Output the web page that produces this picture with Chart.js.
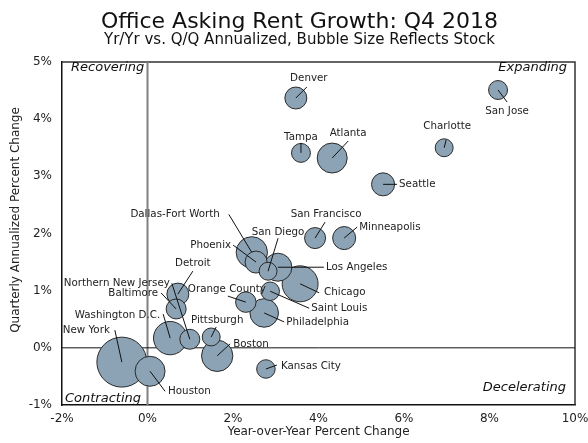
<!DOCTYPE html>
<html>
<head>
<meta charset="utf-8">
<script src="https://cdn.jsdelivr.net/npm/chart.js@4.4.0/dist/chart.umd.min.js"></script>
<style>
  body { margin: 0; background: #fff; }
  #wrap { width: 588px; height: 443px; }
</style>
</head>
<body>
<div id="wrap"><canvas id="rentChart"></canvas></div>
<script>
const metros = [
  "Denver", "Tampa", "Atlanta", "Charlotte", "San Jose", "Seattle",
  "San Francisco", "Minneapolis", "Dallas-Fort Worth", "Phoenix", "San Diego",
  "Los Angeles", "Chicago", "Saint Louis", "Orange County", "Philadelphia",
  "Detroit", "Northern New Jersey", "Baltimore", "Washington D.C.",
  "Pittsburgh", "Boston", "New York", "Houston", "Kansas City",
];
// Yr/Yr percent change
const yoyChange = [
  3.47, 3.59, 4.32, 6.94, 8.2, 5.51, 3.92, 4.6, 2.44, 2.54, 2.82, 3.05, 3.57,
  2.87, 2.3, 2.73, 0.71, 0.99, 0.67, 0.53, 1.49, 1.63, -0.6, 0.06, 2.77,
];
// Q/Q annualized percent change
const qoqAnnualized = [
  4.37, 3.41, 3.32, 3.5, 4.51, 2.86, 1.92, 1.92, 1.67, 1.5, 1.34, 1.41, 1.12,
  0.99, 0.8, 0.61, 0.94, 0.15, 0.68, 0.17, 0.19, -0.14, -0.25, -0.41, -0.37,
];
// office stock, million sq ft
const officeStock = [
  93, 69, 173, 62, 69, 102, 85, 102, 189, 93, 62, 151, 249, 66, 81, 157, 93,
  77, 77, 214, 62, 189, 480, 173, 66,
];
const xTicks = [-2, 0, 2, 4, 6, 8, 10];
const yTicks = [-1, 0, 1, 2, 3, 4, 5];

// where each city name sits, px from bubble centre:
// [textDx, textDy, align, lineEndDx, lineEndDy]
const labelSpots = {
  "Denver": [13, -20, "center", 11, -11],
  "Tampa": [0, -16, "center", 0, -10],
  "Atlanta": [16, -25, "center", 16, -17],
  "Charlotte": [3, -21, "center", 2, -8],
  "San Jose": [9, 21, "center", 9, 12],
  "Seattle": [16, 0, "left", 14, 0],
  "San Francisco": [11, -24, "center", 10, -16],
  "Minneapolis": [15, -11, "left", 13, -11],
  "Dallas-Fort Worth": [-32, -38, "right", -23, -38],
  "Phoenix": [-25, -17, "right", -23, -17],
  "San Diego": [10, -39, "center", 10, -33],
  "Los Angeles": [48, 0, "left", 46, 0],
  "Chicago": [24, 9, "left", 19, 9],
  "Saint Louis": [41, 17, "left", 39, 17],
  "Orange County": [-19, -13, "center", -18, -6],
  "Philadelphia": [22, 9, "left", 20, 9],
  "Detroit": [15, -31, "center", 15, -23],
  "Northern New Jersey": [-20, -56, "right", -18, -56],
  "Baltimore": [-18, -16, "right", -15, -16],
  "Washington D.C.": [-10, -23, "right", -7, -24],
  "Pittsburgh": [6, -17, "center", 5, -10],
  "Boston": [16, -12, "left", 13, -12],
  "New York": [-12, -32, "right", -7, -32],
  "Houston": [18, 20, "left", 15, 20],
  "Kansas City": [15, -3, "left", 11, -4],
};

const FONT = "DejaVu Sans";

// biggest bubbles first so the small ones stay on top
const order = metros.map((m, i) => i).sort((a, b) => officeStock[b] - officeStock[a]);
const points = order.map((i) => ({
  x: yoyChange[i],
  y: qoqAnnualized[i],
  r: 1.14 * Math.sqrt(officeStock[i]),
  name: metros[i],
}));

const decorations = {
  id: "decorations",
  beforeDatasetsDraw(chart) {
    const { ctx, chartArea: a, scales } = chart;
    ctx.save();
    // frame top / right
    ctx.strokeStyle = "#333";
    ctx.lineWidth = 1.5;
    ctx.beginPath();
    ctx.moveTo(a.left, a.top);
    ctx.lineTo(a.right, a.top);
    ctx.lineTo(a.right, a.bottom);
    ctx.stroke();
    // zero lines
    const x0 = scales.x.getPixelForValue(0);
    const y0 = scales.y.getPixelForValue(0);
    ctx.strokeStyle = "#808080";
    ctx.lineWidth = 2;
    ctx.beginPath();
    ctx.moveTo(x0, a.top);
    ctx.lineTo(x0, a.bottom);
    ctx.stroke();
    ctx.strokeStyle = "#111";
    ctx.lineWidth = 1;
    ctx.beginPath();
    ctx.moveTo(a.left, y0);
    ctx.lineTo(a.right, y0);
    ctx.stroke();
    ctx.restore();
  },
  afterDatasetsDraw(chart) {
    const { ctx, chartArea: a } = chart;
    const meta = chart.getDatasetMeta(0);
    const data = chart.data.datasets[0].data;
    ctx.save();
    ctx.font = "10.3px " + FONT;
    ctx.textBaseline = "middle";
    meta.data.forEach((el, j) => {
      const spot = labelSpots[data[j].name];
      if (!spot) return;
      const [tx, ty, align, lx, ly] = spot;
      ctx.strokeStyle = "#111";
      ctx.lineWidth = 1;
      ctx.beginPath();
      ctx.moveTo(el.x, el.y);
      ctx.lineTo(el.x + lx, el.y + ly);
      ctx.stroke();
      ctx.fillStyle = "#222";
      ctx.textAlign = align;
      ctx.fillText(data[j].name, el.x + tx, el.y + ty);
    });

    // quadrant names
    ctx.font = "italic 13px " + FONT;
    ctx.fillStyle = "#111";
    ctx.textAlign = "left";
    ctx.fillText("Recovering", a.left + 9, a.top + 6);
    ctx.fillText("Contracting", a.left + 3, a.bottom - 6);
    ctx.textAlign = "right";
    ctx.fillText("Expanding", a.right - 8, a.top + 6);
    ctx.fillText("Decelerating", a.right - 9, a.bottom - 17);

    // y axis title
    ctx.font = "12px " + FONT;
    ctx.fillStyle = "#222";
    ctx.textAlign = "center";
    ctx.translate(16, 220);
    ctx.rotate(-Math.PI / 2);
    ctx.fillText("Quarterly Annualized Percent Change", 0, 0);
    ctx.restore();
  },
};

new Chart(document.getElementById("rentChart"), {
  type: "bubble",
  data: {
    datasets: [
      {
        data: points,
        backgroundColor: "#8ba3b4",
        borderColor: "#2a2a2a",
        borderWidth: 1,
        hoverRadius: 0,
      },
    ],
  },
  options: {
    responsive: true,
    maintainAspectRatio: false,
    animation: false,
    layout: {
      autoPadding: false,
      padding: { top: 0, right: 13, left: 24, bottom: 0 },
    },
    scales: {
      x: {
        min: xTicks[0],
        max: xTicks[xTicks.length - 1],
        afterBuildTicks: (s) => {
          s.ticks = xTicks.map((v) => ({ value: v }));
        },
        afterFit: (s) => {
          s.height = 38;
          s.paddingRight = 0;
          s.paddingLeft = 0;
        },
        grid: { display: false, drawTicks: false },
        border: { color: "#111", width: 1.5 },
        ticks: {
          padding: 7,
          color: "#222",
          font: { family: FONT, size: 12 },
          callback: (v) => v + "%",
        },
        title: {
          display: true,
          text: "Year-over-Year Percent Change",
          color: "#222",
          font: { family: FONT, size: 12 },
          padding: { top: 0 },
        },
      },
      y: {
        min: yTicks[0],
        max: yTicks[yTicks.length - 1],
        afterBuildTicks: (s) => {
          s.ticks = yTicks.map((v) => ({ value: v }));
        },
        afterFit: (s) => {
          s.width = 38;
        },
        grid: { display: false, drawTicks: false },
        border: { color: "#111", width: 1.5 },
        ticks: {
          padding: 10,
          color: "#222",
          font: { family: FONT, size: 12 },
          callback: (v) => v + "%",
        },
      },
    },
    plugins: {
      legend: { display: false },
      tooltip: { enabled: false },
      title: {
        display: true,
        text: "Office Asking Rent Growth: Q4 2018",
        color: "#111",
        font: { family: FONT, size: 22, weight: "normal", lineHeight: 1 },
        padding: { top: 11, bottom: 0 },
      },
      subtitle: {
        display: true,
        text: "Yr/Yr vs. Q/Q Annualized, Bubble Size Reflects Stock",
        color: "#111",
        font: { family: FONT, size: 15, lineHeight: 1 },
        padding: { top: 0, bottom: 14 },
      },
    },
  },
  plugins: [decorations],
});
</script>
</body>
</html>
